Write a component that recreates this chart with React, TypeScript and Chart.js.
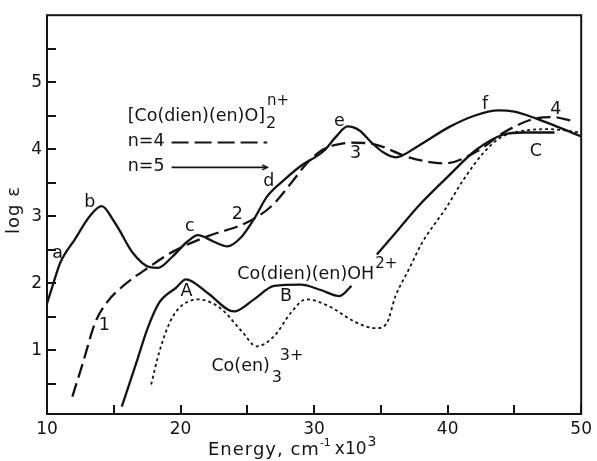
import React, { useEffect, useRef } from "react";
import { Chart, registerables } from "chart.js";

Chart.register(...registerables);

// ---- data (x: energy, cm^-1 x 10^3 ; y: log epsilon) ----
// [Co(dien)(en)O]2 n+, n = 5 (solid)
const dimer5X = [10, 10.4, 11.0, 12.1, 13.2, 14.1, 15.0, 15.4, 16.4, 17.7, 18.3, 19.4, 20.5, 21.3, 22.5, 23.5, 24.5, 25.5, 26.5, 27.8, 29.0, 30.7, 31.7, 32.5, 33.4, 34.3, 35.2, 36.1, 37.8, 40.1, 42.0, 43.8, 45.0, 46.6, 48.3, 50];
const dimer5Y = [1.7, 1.95, 2.31, 2.66, 3.0, 3.15, 2.93, 2.8, 2.46, 2.24, 2.23, 2.4, 2.62, 2.72, 2.62, 2.55, 2.68, 2.96, 3.3, 3.55, 3.75, 3.97, 4.2, 4.34, 4.28, 4.1, 3.95, 3.88, 4.05, 4.33, 4.5, 4.58, 4.56, 4.46, 4.33, 4.19];

// [Co(dien)(en)O]2 n+, n = 4 (dashed)
const dimer4X = [11.9, 12.7, 13.6, 14.5, 15.7, 17.7, 19.5, 22.0, 25.0, 26.8, 28.3, 29.5, 30.7, 32.0, 32.8, 34.6, 37.1, 39.8, 42.2, 44.2, 46.4, 47.9, 49.2];
const dimer4Y = [0.31, 0.82, 1.41, 1.72, 1.96, 2.25, 2.48, 2.7, 2.91, 3.15, 3.5, 3.8, 4.0, 4.08, 4.1, 4.07, 3.88, 3.79, 3.97, 4.25, 4.45, 4.48, 4.43];

// Co(dien)(en)OH 2+ (solid, broken by its label)
const hydroxoX = [15.6, 16.7, 17.5, 18.4, 19.7, 20.4, 22.0, 24.0, 25.5, 27.0, 29.0, 30.5, 31.9, 32.8, 33.7, 34.7, 36.3, 37.8, 39.8, 42.2, 44.2, 45.7, 48.0];
const hydroxoY = [0.16, 0.82, 1.31, 1.71, 1.94, 2.06, 1.86, 1.58, 1.76, 1.96, 1.98, 1.9, 1.81, 1.96, null, 2.43, 2.8, 3.15, 3.55, 4.0, 4.22, 4.25, 4.25];

// Co(en)3 3+ (dotted)
const tris_enX = [17.8, 18.4, 19.2, 19.8, 20.5, 21.3, 22.2, 23.1, 24.6, 25.7, 27.0, 28.3, 29.4, 31.1, 33.1, 34.6, 35.4, 36.1, 37.1, 38.1, 38.9, 39.8, 41.2, 42.7, 44.0, 45.5, 47.5, 50];
const tris_enY = [0.49, 0.97, 1.42, 1.61, 1.72, 1.76, 1.72, 1.61, 1.28, 1.06, 1.21, 1.57, 1.76, 1.66, 1.42, 1.33, 1.39, 1.81, 2.21, 2.61, 2.85, 3.1, 3.55, 3.95, 4.18, 4.27, 4.3, 4.25];

// axis ticks
const xTickValues = [10, 20, 30, 40, 50];
const xMinorTicks = [15, 25, 35, 45];
const yTickValues = [1, 2, 3, 4, 5];
const yMinorTicks = [0.5, 1.5, 2.5, 3.5, 4.5, 5.5];

// curve letters: text, x, y (data units)
const letterTexts = ["a", "b", "c", "2", "d", "e", "3", "f", "4", "C", "A", "B", "1"];
const letterX = [10.8, 13.2, 20.7, 24.25, 26.6, 31.9, 33.1, 42.8, 48.1, 46.6, 20.45, 27.9, 14.3];
const letterY = [2.44, 3.2, 2.85, 3.03, 3.52, 4.42, 3.93, 4.67, 4.6, 3.97, 1.88, 1.81, 1.37];

const FONT = '"DejaVu Sans", "Liberation Sans", sans-serif';
const INK = "#141414";
const LABEL = 17.5;

const pts = (xs: number[], ys: (number | null)[]) => xs.map((x, i) => ({ x, y: ys[i] }));

function run(ctx: CanvasRenderingContext2D, t: string, size: number, x: number, y: number, spacing = 0) {
  ctx.font = `${size}px ${FONT}`;
  (ctx as any).letterSpacing = `${spacing}px`;
  ctx.fillText(t, x, y);
  const w = ctx.measureText(t).width;
  (ctx as any).letterSpacing = "0px";
  return w;
}

const overlay = {
  id: "overlay",
  afterDatasetsDraw(chart: any) {
    const { ctx, chartArea: ca, scales } = chart;
    const xs = scales.x;
    const ys = scales.y;
    const px = (v: number) => xs.getPixelForValue(v);
    const py = (v: number) => ys.getPixelForValue(v);
    ctx.save();
    // frame
    ctx.strokeStyle = INK;
    ctx.lineWidth = 2;
    ctx.setLineDash([]);
    ctx.strokeRect(ca.left, ca.top, ca.right - ca.left, ca.bottom - ca.top);
    // inside tick marks
    ctx.lineWidth = 2;
    ctx.beginPath();
    [...xTickValues, ...xMinorTicks].forEach((v) => {
      const X = Math.round(px(v));
      ctx.moveTo(X, ca.bottom);
      ctx.lineTo(X, ca.bottom - 9);
    });
    [...yTickValues, ...yMinorTicks].forEach((v) => {
      const Y = Math.round(py(v));
      ctx.moveTo(ca.left, Y);
      ctx.lineTo(ca.left + 9, Y);
    });
    ctx.stroke();

    ctx.fillStyle = INK;
    ctx.textBaseline = "middle";
    ctx.textAlign = "center";
    // curve letters
    letterTexts.forEach((t, i) => run(ctx, t, LABEL, px(letterX[i]), py(letterY[i])));

    ctx.textAlign = "left";
    // legend block
    let x0 = px(16.04);
    let y0 = py(4.49);
    let w = run(ctx, "[Co(dien)(en)O]", LABEL, x0, y0);
    run(ctx, "2", 16, x0 + w + 1, y0 + 7);
    run(ctx, "n+", 15, x0 + w + 2, y0 - 15);

    y0 = py(4.12);
    run(ctx, "n=4", LABEL, x0, y0);
    ctx.strokeStyle = INK;
    ctx.lineWidth = 2;
    ctx.setLineDash([17, 6]);
    ctx.beginPath();
    ctx.moveTo(px(19.33), py(4.1));
    ctx.lineTo(px(26.49), py(4.1));
    ctx.stroke();

    y0 = py(3.75);
    run(ctx, "n=5", LABEL, x0, y0);
    ctx.setLineDash([]);
    ctx.lineWidth = 1.6;
    ctx.beginPath();
    ctx.moveTo(px(19.33), py(3.73));
    ctx.lineTo(px(26.49), py(3.73));
    ctx.stroke();
    ctx.beginPath();
    ctx.moveTo(px(26.49) - 5, py(3.73) - 2.5);
    ctx.lineTo(px(26.49), py(3.73));
    ctx.lineTo(px(26.49) - 5, py(3.73) + 2.5);
    ctx.stroke();

    // Co(dien)(en)OH 2+
    x0 = px(24.25);
    y0 = py(2.13);
    w = run(ctx, "Co(dien)(en)OH", LABEL, x0, y0);
    run(ctx, "2+", 15, x0 + w + 1, y0 - 10);

    // Co(en)3 3+
    x0 = px(22.31);
    y0 = py(0.76);
    w = run(ctx, "Co(en)", LABEL, x0, y0);
    run(ctx, "3", 16, x0 + w + 2, y0 + 11);
    run(ctx, "3+", 16, x0 + w + 10, y0 - 11);

    // x-axis title
    let cx = 208;
    const ty = 450;
    cx += run(ctx, "Energy, cm", 18, cx, ty, 1);
    cx += run(ctx, "-1", 11, cx, ty - 7) + 4;
    cx += run(ctx, "x10", 17, cx, ty);
    run(ctx, "3", 14, cx + 1, ty - 8);

    // y-axis title
    ctx.save();
    ctx.translate(14, 210);
    ctx.rotate(-Math.PI / 2);
    ctx.textAlign = "center";
    run(ctx, "log ε", 18, 0, 0, 1);
    ctx.restore();

    ctx.restore();
  },
};

export default function App() {
  const ref = useRef<HTMLCanvasElement>(null);
  useEffect(() => {
    document.body.style.margin = "0";
    const canvas = ref.current!;
    const base = {
      borderColor: INK,
      pointRadius: 0,
      fill: false,
      cubicInterpolationMode: "monotone" as const,
      spanGaps: false,
    };
    const chart = new Chart(canvas, {
      type: "line",
      data: {
        datasets: [
          { ...base, label: "n=5", data: pts(dimer5X, dimer5Y), borderWidth: 2.3 },
          { ...base, label: "n=4", data: pts(dimer4X, dimer4Y), borderWidth: 2.3, borderDash: [14, 6] },
          { ...base, label: "Co(dien)(en)OH2+", data: pts(hydroxoX, hydroxoY), borderWidth: 2.3 },
          { ...base, label: "Co(en)3 3+", data: pts(tris_enX, tris_enY), borderWidth: 1.8, borderDash: [3, 3] },
        ] as any,
      },
      options: {
        animation: false,
        responsive: false,
        devicePixelRatio: 1,
        layout: { padding: { top: 15, right: 15, left: 0, bottom: 0 } },
        plugins: { legend: { display: false }, tooltip: { enabled: false } },
        scales: {
          x: {
            type: "linear",
            min: 10,
            max: 50,
            grid: { display: false, drawTicks: false },
            border: { display: false },
            ticks: { font: { family: FONT, size: 17 }, color: INK, padding: 5, callback: (v: any) => String(v) },
            afterBuildTicks: (s: any) => {
              s.ticks = xTickValues.map((v) => ({ value: v }));
            },
            afterFit: (s: any) => {
              s.height = 47;
            },
          },
          y: {
            type: "linear",
            min: 0.05,
            max: 6,
            grid: { display: false, drawTicks: false },
            border: { display: false },
            ticks: { font: { family: FONT, size: 17 }, color: INK, padding: 5, callback: (v: any) => String(v) },
            afterBuildTicks: (s: any) => {
              s.ticks = yTickValues.map((v) => ({ value: v }));
            },
            afterFit: (s: any) => {
              s.width = 47;
            },
          },
        },
      } as any,
      plugins: [overlay],
    });
    return () => chart.destroy();
  }, []);
  return (
    <div style={{ width: 597, height: 461, background: "#fff" }}>
      <canvas ref={ref} width={597} height={461} style={{ display: "block" }} />
    </div>
  );
}
